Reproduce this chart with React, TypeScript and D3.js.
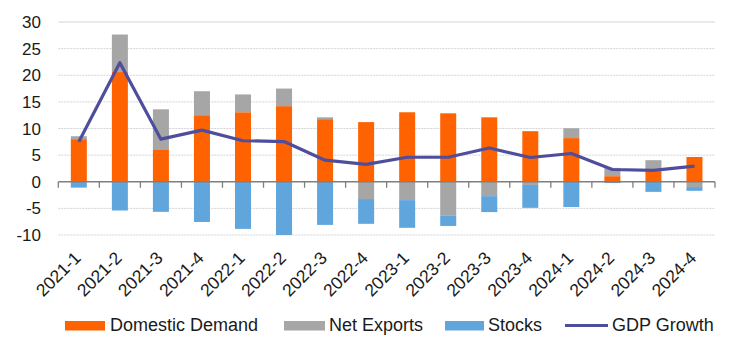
import React from "react";
import * as d3 from "d3";

const categories = ["2021-1","2021-2","2021-3","2021-4","2022-1","2022-2","2022-3","2022-4","2023-1","2023-2","2023-3","2023-4","2024-1","2024-2","2024-3","2024-4"];
const domesticDemand = [8.0, 20.6, 6.1, 12.5, 13.05, 14.2, 11.75, 11.2, 13.05, 12.85, 12.1, 9.5, 8.2, 1.05, 2.0, 4.65];
const netExports = [0.55, 7.05, 7.5, 4.5, 3.35, 3.3, 0.35, -3.25, -3.45, -6.4, -2.7, -0.6, 1.85, 1.55, 2.05, -1.0];
const stocks = [-1.1, -5.4, -5.65, -7.55, -8.85, -10.0, -8.1, -4.65, -5.2, -1.9, -3.0, -4.3, -4.75, -0.25, -1.9, -0.7];
const gdpGrowth = [7.5, 22.35, 8.0, 9.7, 7.7, 7.55, 4.05, 3.25, 4.6, 4.6, 6.35, 4.55, 5.3, 2.3, 2.15, 2.95];
const yTicks = [-10, -5, 0, 5, 10, 15, 20, 25, 30];
const seriesKeys = ["Domestic Demand", "Net Exports", "Stocks"];
const seriesColors = ["#FF6200", "#A6A6A6", "#60A5DC"];
const lineColor = "#4F4E9C";

const W = 748, H = 350;
const FONT = "'Liberation Sans', Arial, sans-serif";

export default function App() {
  const x = d3.scaleBand<string>().domain(categories).range([58.3, 715]).paddingInner(0).paddingOuter(0);
  const y = d3.scaleLinear().domain([-10, 30]).range([235, 22]);
  const barW = 16;

  const rows = categories.map((c, i) => ({
    cat: c,
    "Domestic Demand": domesticDemand[i],
    "Net Exports": netExports[i],
    "Stocks": stocks[i],
  }));
  const stacked = d3.stack<any>().keys(seriesKeys).offset(d3.stackOffsetDiverging)(rows);

  const line = d3.line<number>()
    .x((_, i) => (x(categories[i]) as number) + x.bandwidth() / 2)
    .y((v) => y(v));

  const boundaries = d3.range(categories.length + 1).map((i) => 58.3 + i * x.bandwidth());

  const legend = [
    { label: "Domestic Demand", type: "rect", color: seriesColors[0], sx: 65, sw: 40, tx: 110 },
    { label: "Net Exports", type: "rect", color: seriesColors[1], sx: 284, sw: 41, tx: 329 },
    { label: "Stocks", type: "rect", color: seriesColors[2], sx: 445, sw: 39, tx: 488 },
    { label: "GDP Growth", type: "line", color: lineColor, sx: 565, sw: 43, tx: 612 },
  ];

  return (
    <svg width={W} height={H} style={{ position: "absolute", left: 0, top: 0, background: "#fff" }} fontFamily={FONT}>
      {yTicks.map((t) => (
        <g key={t}>
          {t !== 0 && (
            <line x1={58.3} x2={715} y1={y(t)} y2={y(t)} stroke="#D4D4D8" strokeWidth={1}
              strokeDasharray={t === 30 ? undefined : "2,1"} />
          )}
          <text x={41} y={y(t)} dy="0.36em" textAnchor="end" fontSize={17} fill="#1a1a1a">{t}</text>
        </g>
      ))}
      {stacked.map((s, si) => (
        <g key={s.key} fill={seriesColors[si]}>
          {s.map((d, i) => {
            const y0 = y(d[0]), y1 = y(d[1]);
            return (
              <rect key={i} x={(x(categories[i]) as number) + x.bandwidth() / 2 - barW / 2}
                y={Math.min(y0, y1)} width={barW} height={Math.abs(y1 - y0)} />
            );
          })}
        </g>
      ))}
      <line x1={58.3} x2={715} y1={y(0)} y2={y(0)} stroke="#7F7F7F" strokeWidth={1.3} />
      {boundaries.map((bx, i) => (
        <line key={i} x1={bx} x2={bx} y1={y(0)} y2={y(0) + 6} stroke="#7F7F7F" strokeWidth={1.3} />
      ))}
      <path d={line(gdpGrowth) || ""} fill="none" stroke={lineColor} strokeWidth={3.2} strokeLinejoin="round" />
      {categories.map((c) => {
        const cx = (x(c) as number) + x.bandwidth() / 2;
        return (
          <text key={c} transform={`translate(${cx + 3},${259}) rotate(-45)`} textAnchor="end" fontSize={17.5} fill="#1a1a1a">{c}</text>
        );
      })}
      {legend.map((l) => (
        <g key={l.label}>
          {l.type === "rect" ? (
            <rect x={l.sx} y={321} width={l.sw} height={9.5} fill={l.color} />
          ) : (
            <line x1={l.sx} x2={l.sx + l.sw} y1={325.5} y2={325.5} stroke={l.color} strokeWidth={3.2} />
          )}
          <text x={l.tx} y={331} fontSize={18} fill="#1a1a1a">{l.label}</text>
        </g>
      ))}
    </svg>
  );
}
